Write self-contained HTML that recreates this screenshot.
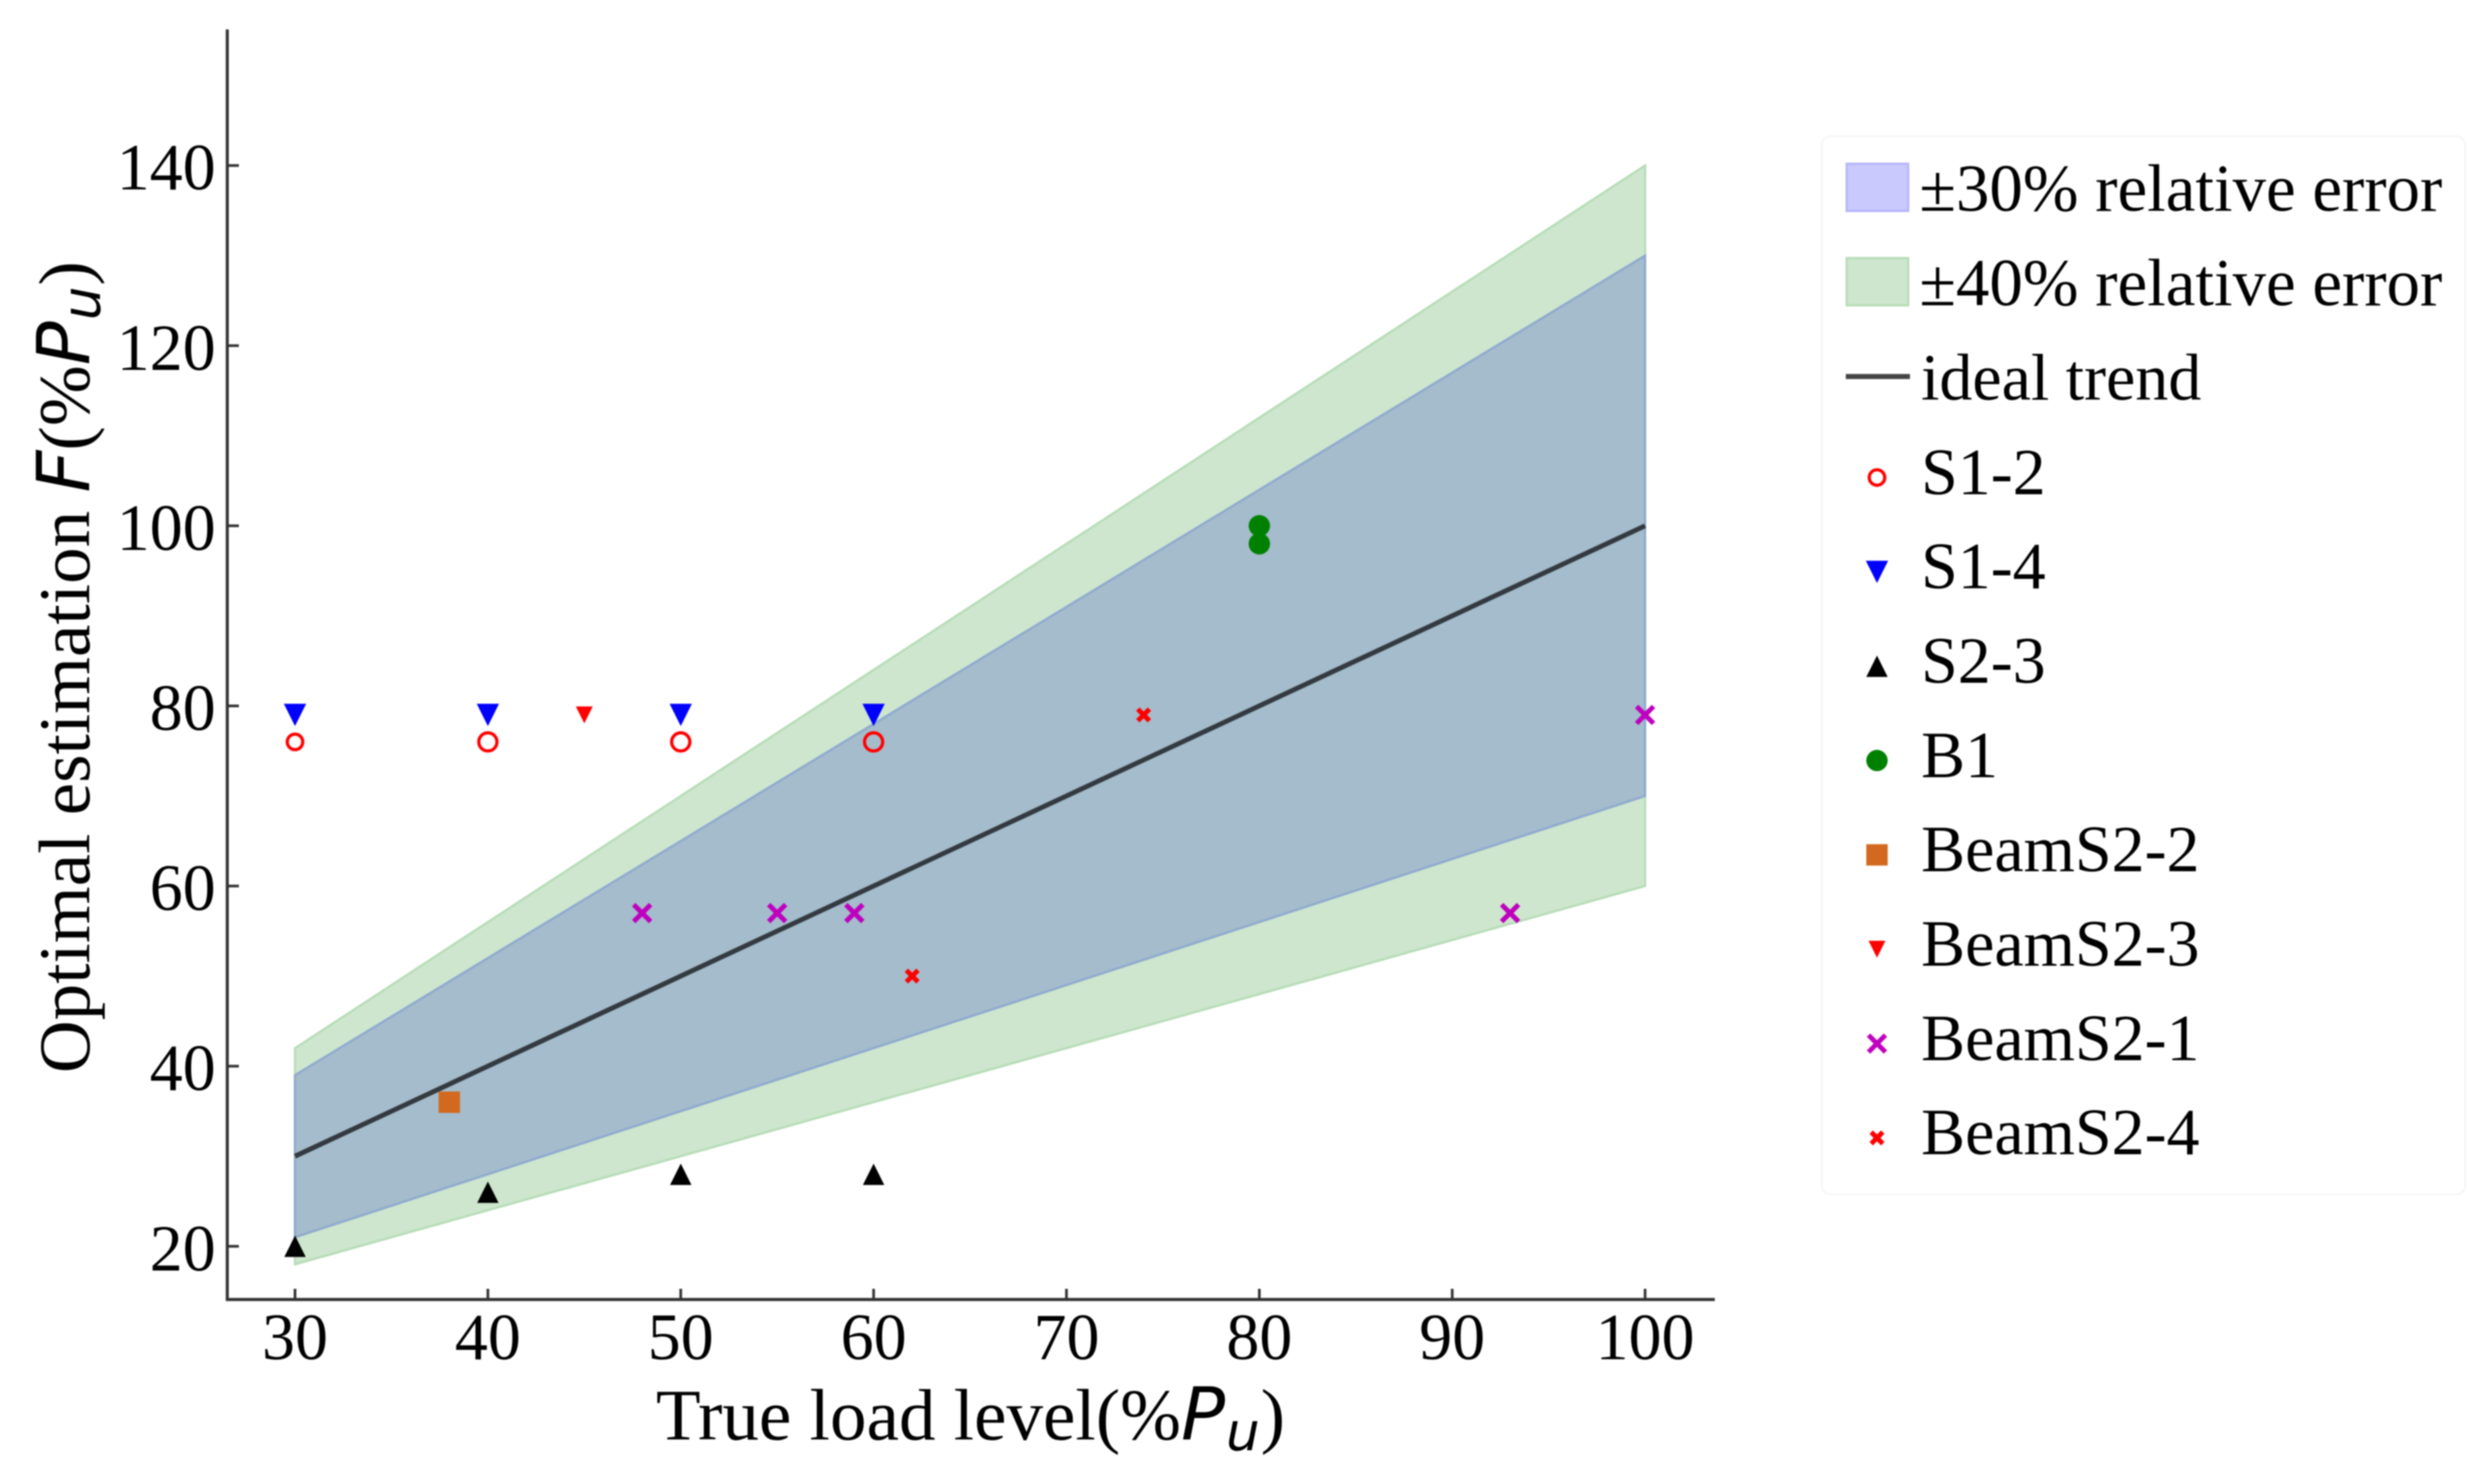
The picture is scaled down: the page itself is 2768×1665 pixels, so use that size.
<!DOCTYPE html>
<html lang="en">
<head>
<meta charset="utf-8">
<title>Optimal estimation vs true load level</title>
<style>
html,body{margin:0;padding:0;background:#fff;width:2768px;height:1665px;overflow:hidden}
svg{display:block;filter:blur(0.8px)}
text{font-family:"Liberation Serif","Times New Roman",serif;fill:#000}
.math{font-family:"DejaVu Sans",sans-serif;font-style:italic}
</style>
</head>
<body>
<svg id="chart" xmlns="http://www.w3.org/2000/svg" width="2768" height="1665" viewBox="0 0 2768 1665">
  <rect x="0" y="0" width="2768" height="1665" fill="#ffffff"/>
  <g id="plot"></g>
  <g id="axes"></g>
  <text x="736" y="1615" font-size="82">True load level(%<tspan class="math">P</tspan><tspan class="math" font-size="60" dy="12" dx="1">u</tspan><tspan dy="-12" dx="1">)</tspan></text>
  <text transform="translate(100,1204) rotate(-90)" font-size="82">Optimal estimation <tspan class="math">F</tspan>(%<tspan class="math">P</tspan><tspan class="math" font-size="60" dy="12" dx="1">u</tspan><tspan dy="-12" dx="1">)</tspan></text>
  <g id="legend">
    <rect x="2044" y="153" width="722" height="1187" rx="10" ry="10" fill="#ffffff" stroke="#f5f5f5" stroke-width="2"/>
  </g>
</svg>
<script>
const xTicks = [30, 40, 50, 60, 70, 80, 90, 100];
const yTicks = [20, 40, 60, 80, 100, 120, 140];

const bandX = [30, 100];
const band30Low = [21, 70];
const band30High = [39, 130];
const band40Low = [18, 60];
const band40High = [42, 140];
const trendX = [30, 100];
const trendY = [30, 100];

const s12X = [30, 40, 50, 60];
const s12Y = [76, 76, 76, 76];
const s14X = [30, 40, 50, 60];
const s14Y = [79, 79, 79, 79];
const s23X = [30, 40, 50, 60];
const s23Y = [20, 26, 28, 28];
const b1X = [80, 80];
const b1Y = [100, 98];
const beamS22X = [38];
const beamS22Y = [36];
const beamS23X = [45];
const beamS23Y = [79];
const beamS21X = [48, 55, 59, 93, 100];
const beamS21Y = [57, 57, 57, 57, 79];
const beamS24X = [62, 74];
const beamS24Y = [50, 79];

const legendLabels = ['±30% relative error', '±40% relative error', 'ideal trend', 'S1-2', 'S1-4', 'S2-3', 'B1', 'BeamS2-2', 'BeamS2-3', 'BeamS2-1', 'BeamS2-4'];

const NS = 'http://www.w3.org/2000/svg';
const plot = document.getElementById('plot');
const axes = document.getElementById('axes');
const legend = document.getElementById('legend');

function sx(v) { return 331 + (v - 30) * 21.64; }
function sy(v) { return 1398.3 - (v - 20) * 10.105; }

function mk(parent, tag, attrs) {
  const el = document.createElementNS(NS, tag);
  for (const k in attrs) el.setAttribute(k, attrs[k]);
  parent.appendChild(el);
  return el;
}

function bandPoints(low, high) {
  const pts = [];
  bandX.forEach(function (x, i) { pts.push(sx(x) + ',' + sy(high[i])); });
  for (let i = bandX.length - 1; i >= 0; i--) pts.push(sx(bandX[i]) + ',' + sy(low[i]));
  return pts.join(' ');
}

function drawMarker(parent, type, cx, cy, size, color) {
  const h = size / 2;
  let el;
  if (type === 'open') {
    el = mk(parent, 'circle', { cx: cx, cy: cy, r: h - 1.8, fill: 'none', stroke: color, 'stroke-width': 3.6 });
  } else if (type === 'down') {
    el = mk(parent, 'polygon', { points: (cx - h) + ',' + (cy - h) + ' ' + (cx + h) + ',' + (cy - h) + ' ' + cx + ',' + (cy + h), fill: color });
  } else if (type === 'up') {
    el = mk(parent, 'polygon', { points: (cx - h) + ',' + (cy + h) + ' ' + (cx + h) + ',' + (cy + h) + ' ' + cx + ',' + (cy - h), fill: color });
  } else if (type === 'dot') {
    el = mk(parent, 'circle', { cx: cx, cy: cy, r: h, fill: color });
  } else if (type === 'square') {
    el = mk(parent, 'rect', { x: cx - h, y: cy - h, width: size, height: size, fill: color });
  } else {
    const a = h - 2.5;
    el = mk(parent, 'path', { d: 'M' + (cx - a) + ' ' + (cy - a) + 'L' + (cx + a) + ' ' + (cy + a) + 'M' + (cx + a) + ' ' + (cy - a) + 'L' + (cx - a) + ' ' + (cy + a), fill: 'none', stroke: color, 'stroke-width': 5.4 });
  }
  return el;
}

/* bands */
const band40 = mk(plot, 'polygon', { points: bandPoints(band40Low, band40High), fill: '#cde6cd', stroke: '#b6dcb6', 'stroke-width': 2.5 });


const band30 = mk(plot, 'polygon', { points: bandPoints(band30Low, band30High), fill: '#a4bccb', stroke: '#8fa9cf', 'stroke-width': 2.5 });



/* ideal trend */
const trend = mk(plot, 'line', { x1: sx(trendX[0]), y1: sy(trendY[0]), x2: sx(trendX[1]), y2: sy(trendY[1]), stroke: '#333a40', 'stroke-width': 5.4 });



/* scatter series */
function drawSeries(name, xs, ys, type, size, color) {
  xs.forEach(function (x, i) {
    const s = (name === 's1-2' && x === 30) ? size - 3 : size;
    const m = drawMarker(plot, type, sx(x), sy(ys[i]), s, color);
    
    
  });
}
drawSeries('s1-2', s12X, s12Y, 'open', 24, '#ff0000');
drawSeries('s1-4', s14X, s14Y, 'down', 25, '#0000ff');
drawSeries('s2-3', s23X, s23Y, 'up', 24, '#000000');
drawSeries('b1', b1X, b1Y, 'dot', 24, '#008000');
drawSeries('beams2-2', beamS22X, beamS22Y, 'square', 24, '#d2691e');
drawSeries('beams2-3', beamS23X, beamS23Y, 'down', 19, '#ff0000');
drawSeries('beams2-1', beamS21X, beamS21Y, 'x', 24, '#bf00bf');
drawSeries('beams2-4', beamS24X, beamS24Y, 'x', 18, '#ff0000');

/* axes */
const yAxis = mk(axes, 'line', { x1: 255, y1: 33, x2: 255, y2: 1459.5, stroke: '#333333', 'stroke-width': 3.4 });


const xAxis = mk(axes, 'line', { x1: 253.5, y1: 1458, x2: 1924, y2: 1458, stroke: '#333333', 'stroke-width': 3.4 });



xTicks.forEach(function (v) {
  const t = mk(axes, 'line', { x1: sx(v), y1: 1458, x2: sx(v), y2: 1446, stroke: '#333333', 'stroke-width': 3 });
  
  
  const l = mk(axes, 'text', { x: sx(v), y: 1525, 'font-size': 74, 'text-anchor': 'middle' });
  
  
  l.textContent = String(v);
});
yTicks.forEach(function (v) {
  const t = mk(axes, 'line', { x1: 255, y1: sy(v), x2: 268, y2: sy(v), stroke: '#333333', 'stroke-width': 3 });
  
  
  const l = mk(axes, 'text', { x: 242, y: sy(v) + 27, 'font-size': 74, 'text-anchor': 'end' });
  
  
  l.textContent = String(v);
});

/* legend */
function legendBaseline(i) { return 236.7 + i * 105.85; }
function legendCenter(i) { return legendBaseline(i) - 18.5; }

legendLabels.forEach(function (label, i) {
  const t = mk(legend, 'text', { x: i < 2 ? 2153.5 : 2155.5, y: legendBaseline(i), 'font-size': i < 2 ? 75 : 74 });
  
  
  t.textContent = label;
});

const swatch30 = mk(legend, 'rect', { x: 2072, y: legendBaseline(0) - 53, width: 69, height: 53, fill: '#c9c9fd', stroke: '#b5b5fb', 'stroke-width': 2.5 });


const swatch40 = mk(legend, 'rect', { x: 2072, y: legendBaseline(1) - 53, width: 69, height: 53, fill: '#cde6cd', stroke: '#b6dcb6', 'stroke-width': 2.5 });


const swatchLine = mk(legend, 'line', { x1: 2071, y1: legendBaseline(2) - 26, x2: 2143, y2: legendBaseline(2) - 26, stroke: '#444444', 'stroke-width': 5.6 });



const lm3 = drawMarker(legend, 'open', 2106, legendCenter(3), 21, '#ff0000');


const lm4 = drawMarker(legend, 'down', 2106, legendCenter(4), 25, '#0000ff');


const lm5 = drawMarker(legend, 'up', 2106, legendCenter(5), 24, '#000000');


const lm6 = drawMarker(legend, 'dot', 2106, legendCenter(6), 24, '#008000');


const lm7 = drawMarker(legend, 'square', 2106, legendCenter(7), 24, '#d2691e');


const lm8 = drawMarker(legend, 'down', 2106, legendCenter(8), 19, '#ff0000');


const lm9 = drawMarker(legend, 'x', 2106, legendCenter(9), 24, '#bf00bf');


const lm10 = drawMarker(legend, 'x', 2106, legendCenter(10), 18, '#ff0000');


</script>
</body>
</html>
